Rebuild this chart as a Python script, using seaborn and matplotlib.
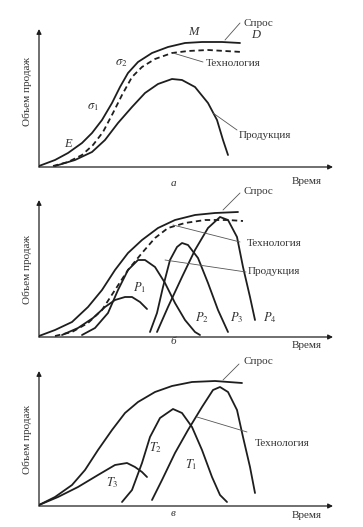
import numpy as np
import pandas as pd
import matplotlib
matplotlib.use("Agg")
import matplotlib.pyplot as plt
import seaborn as sns

sns.set_theme(style="white")
plt.rcParams['font.family'] = ['Liberation Serif', 'DejaVu Serif']
plt.rcParams['mathtext.fontset'] = 'stix'

# ---- panel a: demand, technology, product ----
a_demand_t = [0, 16, 29, 43, 53, 63, 73, 81, 89, 99, 113, 129, 146, 163, 183, 201]
a_demand_v = [1, 7, 14, 24, 34, 47, 64, 80, 94, 105, 114, 120, 124, 125, 125, 124]
a_tech_t = [14, 29, 43, 54, 64, 74, 83, 93, 103, 116, 133, 149, 169, 203]
a_tech_v = [1, 5, 12, 22, 35, 54, 72, 90, 100, 108, 114, 116, 117, 115]
a_prod_t = [16, 36, 53, 66, 79, 93, 106, 119, 133, 143, 156, 169, 178, 184, 189]
a_prod_v = [1, 7, 15, 27, 44, 60, 74, 83, 88, 87, 80, 64, 47, 27, 12]

# ---- panel b: demand, technology, products P1..P4 ----
b_demand_t = [0, 16, 33, 49, 63, 76, 89, 103, 119, 136, 156, 176, 199]
b_demand_v = [1, 7, 15, 30, 47, 67, 84, 97, 109, 117, 122, 124, 125]
b_tech_t = [16, 33, 49, 63, 76, 89, 103, 116, 129, 146, 166, 189, 204]
b_tech_v = [1, 5, 14, 27, 47, 67, 84, 99, 109, 114, 117, 117, 116]
b_p1_t = [23, 39, 54, 66, 76, 86, 93, 101, 108]
b_p1_v = [2, 9, 19, 30, 37, 40, 40, 35, 28]
b_p2_t = [43, 56, 69, 79, 89, 99, 106, 116, 126, 136, 146, 156, 161]
b_p2_v = [2, 9, 24, 47, 67, 77, 77, 70, 54, 34, 17, 5, 2]
b_p3_t = [111, 118, 124, 131, 138, 143, 149, 159, 169, 179, 189]
b_p3_v = [5, 24, 50, 77, 90, 94, 92, 79, 54, 27, 5]
b_p4_t = [118, 129, 143, 156, 169, 181, 189, 198, 204, 211, 216]
b_p4_v = [5, 30, 60, 87, 109, 120, 117, 100, 70, 40, 17]

# ---- panel c: demand, technologies T1..T3 ----
c_demand_t = [0, 16, 33, 46, 59, 73, 86, 99, 116, 133, 153, 176, 203]
c_demand_v = [1, 9, 21, 36, 56, 76, 93, 104, 114, 120, 124, 125, 123]
c_t3_t = [0, 19, 39, 59, 76, 88, 96, 103, 108]
c_t3_v = [1, 9, 19, 31, 41, 43, 39, 34, 29]
c_t2_t = [83, 93, 103, 111, 121, 134, 143, 153, 163, 173, 181, 188]
c_t2_v = [4, 16, 43, 69, 88, 97, 93, 79, 56, 29, 11, 4]
c_t1_t = [113, 123, 136, 149, 163, 174, 181, 189, 198, 204, 211, 216]
c_t1_v = [6, 26, 53, 76, 99, 116, 119, 114, 96, 69, 39, 13]

ink = "#1e1e1e"
txt = "#333333"
lead = "#555555"

fig = plt.figure(figsize=(3.63, 5.27), dpi=100)
W, H = 363, 527


def make_ax(origin_y, height):
    ax = fig.add_axes([39 / W, (H - origin_y) / H, 294 / W, height / H])
    ax.set_xlim(0, 294)
    ax.set_ylim(0, height)
    ax.axis("off")
    # arrowed axes
    ax.annotate("", xy=(294, 0), xytext=(0, 0), annotation_clip=False,
                arrowprops=dict(arrowstyle="-|>", color=ink, lw=0.9,
                                mutation_scale=7, shrinkA=0, shrinkB=0))
    ax.annotate("", xy=(0, height), xytext=(0, 0), annotation_clip=False,
                arrowprops=dict(arrowstyle="-|>", color=ink, lw=0.9,
                                mutation_scale=7, shrinkA=0, shrinkB=0))
    return ax


def curve(ax, t, v, dashed=False):
    df = pd.DataFrame({"t": t, "v": v})
    sns.lineplot(data=df, x="t", y="v", ax=ax, sort=False, estimator=None,
                 color=ink, lw=1.3, linestyle="--" if dashed else "-")
    if dashed:
        ax.lines[-1].set_dashes((3, 2))
    ax.lines[-1].set_solid_joinstyle("round")
    ax.set_xlabel("")
    ax.set_ylabel("")


def leader(ax, x0, y0, x1, y1):
    ax.plot([x0, x1], [y0, y1], color=lead, lw=0.6, clip_on=False)


def label(ax, x, y, s, ha="left", style="normal", size=8):
    ax.text(x, y, s, ha=ha, va="center", fontsize=size, color=txt,
            style=style, clip_on=False)


def frame_text(ax, letter, ly, vy, ycenter):
    label(ax, 134, ly, letter, ha="center", style="italic")
    label(ax, 283, vy, "Время", ha="right")
    ax.text(-12, ycenter, "Объем продаж", rotation=90, ha="center",
            va="center", fontsize=8, color=txt, clip_on=False)


# panel a
ax = make_ax(167, 138)
curve(ax, a_demand_t, a_demand_v)
curve(ax, a_tech_t, a_tech_v, dashed=True)
curve(ax, a_prod_t, a_prod_v)
label(ax, 204, 144, "Спрос")
leader(ax, 201, 144, 186, 127)
label(ax, 149, 135, "M", style="italic", size=9)
label(ax, 212, 132, "D", style="italic", size=9)
label(ax, 76, 104, r"$\sigma_2$", size=9)
label(ax, 48, 60, r"$\sigma_1$", size=9)
label(ax, 25, 23, "E", style="italic", size=9)
label(ax, 167, 104, "Технология")
leader(ax, 164, 105, 134, 114)
label(ax, 200, 31, "Продукция")
leader(ax, 198, 37, 174, 54)
frame_text(ax, "а", -16, -15, 75)

# panel b
ax = make_ax(337, 137)
curve(ax, b_demand_t, b_demand_v)
curve(ax, b_tech_t, b_tech_v, dashed=True)
for t, v in [(b_p1_t, b_p1_v), (b_p2_t, b_p2_v), (b_p3_t, b_p3_v), (b_p4_t, b_p4_v)]:
    curve(ax, t, v)
label(ax, 204, 146, "Спрос")
leader(ax, 201, 144, 184, 127)
label(ax, 208, 94, "Технология")
leader(ax, 201, 95, 134, 112)
label(ax, 209, 65, "Продукция")
leader(ax, 207, 65, 126, 77)
for x, s in [(94, r"$P_1$"), (156, r"$P_2$"), (191, r"$P_3$"), (224, r"$P_4$")]:
    y = 49 if x == 94 else 19
    label(ax, x, y, s, size=9)
frame_text(ax, "б", -4, -8, 67)

# panel c
ax = make_ax(506, 135)
curve(ax, c_demand_t, c_demand_v)
for t, v in [(c_t3_t, c_t3_v), (c_t2_t, c_t2_v), (c_t1_t, c_t1_v)]:
    curve(ax, t, v)
label(ax, 204, 144, "Спрос")
leader(ax, 200, 142, 184, 126)
label(ax, 216, 63, "Технология")
leader(ax, 208, 74, 158, 89)
label(ax, 67, 23, r"$T_3$", size=9)
label(ax, 110, 58, r"$T_2$", size=9)
label(ax, 146, 41, r"$T_1$", size=9)
frame_text(ax, "в", -8, -10, 66)

fig.savefig("out.png", dpi=100)
